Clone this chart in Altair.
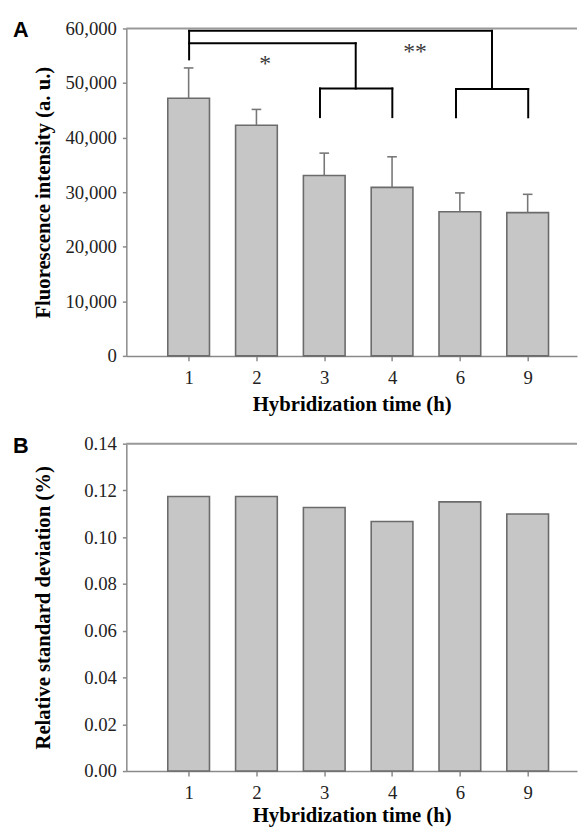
import altair as alt
import pandas as pd

# ---- data ----
times = ["1", "2", "3", "4", "6", "9"]
intensity = [47230, 42280, 33050, 30880, 26430, 26250]
intensity_err_top = [52770, 45170, 37160, 36490, 29870, 29610]
rsd = [0.1174, 0.1174, 0.1127, 0.1067, 0.1151, 0.1099]

# significance brackets (x in bar-index units, y in intensity units)
bracket_x = [0.007, 0.007, 4.474, 3.943, 3.943, 5.008, 0.007, 2.464, 1.937, 1.937, 3.004]
bracket_x2 = [0.007, 4.474, 4.474, 5.008, 3.943, 5.008, 2.464, 2.464, 3.004, 1.937, 3.004]
bracket_y = [54340, 59590, 59590, 48900, 48900, 48900, 57290, 57290, 49000, 49000, 49000]
bracket_y2 = [59590, 59590, 48900, 48900, 43720, 43720, 57290, 49000, 49000, 43760, 43760]
star_x = [1.129, 3.339]
star_y = [52300, 54450]
star_text = ["*", "**"]

idx = list(range(len(times)))
df = pd.DataFrame({"idx": idx, "time": times, "intensity": intensity,
                   "err_top": intensity_err_top, "rsd": rsd})
df["cap_l"] = df["idx"] - 0.071
df["cap_r"] = df["idx"] + 0.071

br = pd.DataFrame({"x": bracket_x, "x2": bracket_x2, "y": bracket_y, "y2": bracket_y2})
stars = pd.DataFrame({"x": star_x, "y": star_y, "t": star_text})

W, H = 457, 332
XDOM = [-0.846, 5.655]
label_expr = "[" + ",".join("'%s'" % t for t in times) + "][datum.value]"
XTITLE = "Hybridization time (h)"

BAR_FILL = "#c6c6c6"
BAR_STROKE = "#6b6b6b"
FRAME = "#999999"


def panel(yfield, ydom, yvals, yfmt, ytitle, ytpad, xtpad, letter, errbars, extra):
    xscale = alt.Scale(domain=XDOM, nice=False, zero=False)
    xaxis = alt.Axis(values=idx, labelExpr=label_expr, title=XTITLE, titlePadding=xtpad)
    yscale = alt.Scale(domain=ydom, nice=False, zero=True)
    yaxis = alt.Axis(values=yvals, format=yfmt, title=ytitle, titlePadding=ytpad)

    def X(field):
        return alt.X(field, type="quantitative", scale=xscale, axis=xaxis, title=XTITLE)

    def Y(field):
        return alt.Y(field, type="quantitative", scale=yscale, axis=yaxis, title=ytitle)

    base = alt.Chart(df)
    bars = base.mark_bar(size=42.3, fill=BAR_FILL, stroke=BAR_STROKE, strokeWidth=1.6).encode(
        x=X("idx"), y=Y(yfield))
    top = alt.Chart(pd.DataFrame({"v": [ydom[1]]})).mark_rule(
        color=FRAME, strokeWidth=2).encode(y=Y("v"))
    letter_l = alt.Chart(pd.DataFrame({"t": [letter]})).mark_text(
        font="Liberation Sans", fontWeight="bold", fontSize=22, align="left",
        baseline="alphabetic", color="black").encode(
        x=alt.value(-115), y=alt.value(9), text="t:N")
    layers = [bars]
    if errbars:
        err = base.mark_rule(color="#777777", strokeWidth=1.6).encode(
            x=X("idx"), y=Y(yfield), y2="err_top")
        cap = base.mark_rule(color="#777777", strokeWidth=1.6).encode(
            x=X("cap_l"), x2="cap_r", y=Y("err_top"))
        layers += [err, cap]
    layers += extra(X, Y)
    layers += [top, letter_l]
    return alt.layer(*layers).properties(width=W, height=H)


def top_extra(X, Y):
    brk = alt.Chart(br).mark_rule(color="black", strokeWidth=2, strokeCap="square").encode(
        x=X("x"), x2="x2", y=Y("y"), y2="y2")
    st = alt.Chart(stars).mark_text(font="Liberation Serif", fontSize=24, color="#3a3a3a",
                                    fill="#3a3a3a", baseline="alphabetic", align="center").encode(
        x=X("x"), y=Y("y"), text="t:N")
    return [brk, st]


def no_extra(X, Y):
    return []


chart_a = panel("intensity", [0, 60000], [0, 10000, 20000, 30000, 40000, 50000, 60000], ",.0f",
                "Fluorescence intensity (a. u.)", 12, 6, "A", True, top_extra)
chart_b = panel("rsd", [0, 0.14], [0, 0.02, 0.04, 0.06, 0.08, 0.10, 0.12, 0.14], ".2f",
                "Relative standard deviation (%)", 31, 2, "B", False, no_extra)

chart = alt.vconcat(chart_a, chart_b, spacing=21).properties(
    padding={"left": 5, "top": 6, "right": 0, "bottom": 0}
).configure_view(stroke=None).configure_axis(
    grid=False,
    domainColor="#8a8a8a", domainWidth=1.5,
    tickColor="#8a8a8a", tickWidth=1.5,
    labelFont="Liberation Serif", labelFontSize=19, labelColor="#222222",
    titleFont="Liberation Serif", titleFontSize=21, titleFontWeight="bold", titleColor="black",
).configure_axisX(tickSize=5, labelPadding=8).configure_axisY(
    tickSize=4, labelPadding=6)

chart.save("out.html", embed_options={"renderer": "svg", "actions": False})
